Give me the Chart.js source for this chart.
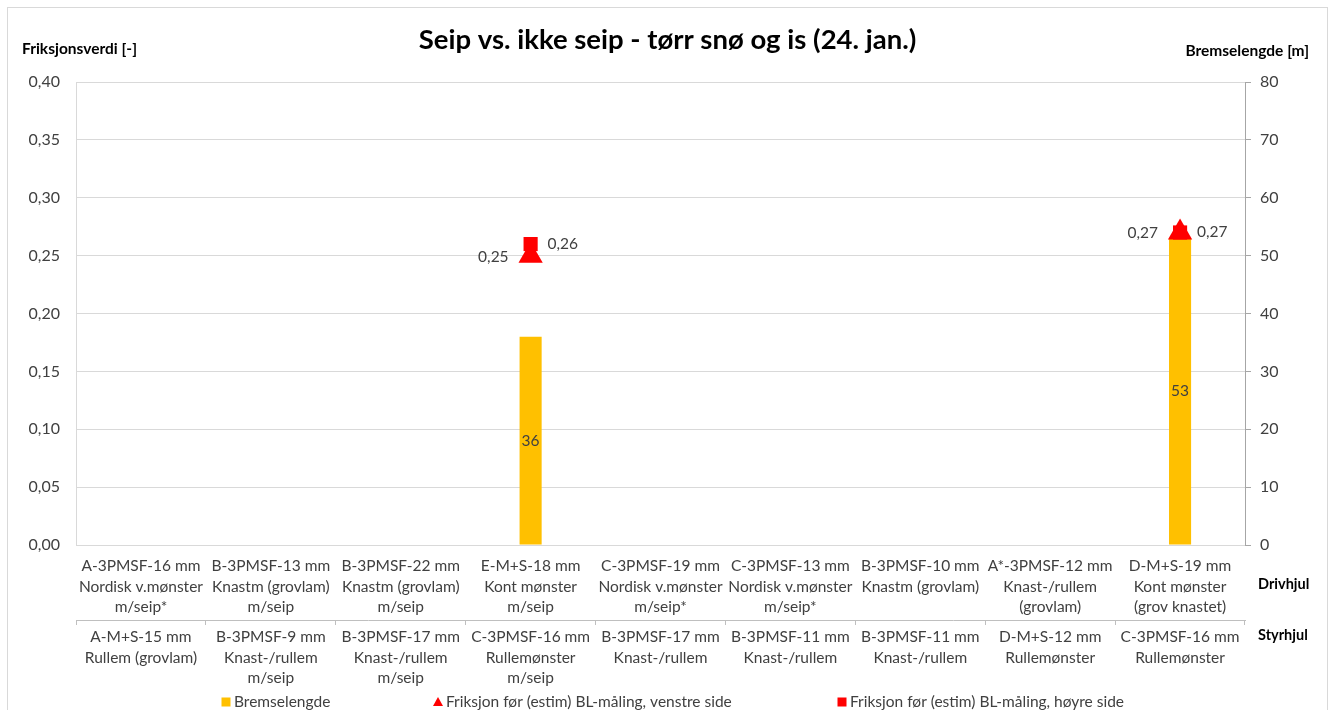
<!DOCTYPE html>
<html>
<head>
<meta charset="utf-8">
<script src="https://cdn.jsdelivr.net/npm/chart.js@4.4.1/dist/chart.umd.min.js"></script>
<style>
  html, body { margin: 0; padding: 0; background: #fff; }
  #wrap { width: 1335px; height: 710px; }
</style>
</head>
<body>
<div id="wrap"><canvas id="chart"></canvas></div>
<script>
const drivhjul = [
  ["A-3PMSF-16 mm", "Nordisk v.mønster", "m/seip*"],
  ["B-3PMSF-13 mm", "Knastm (grovlam)", "m/seip"],
  ["B-3PMSF-22 mm", "Knastm (grovlam)", "m/seip"],
  ["E-M+S-18 mm", "Kont mønster", "m/seip"],
  ["C-3PMSF-19 mm", "Nordisk v.mønster", "m/seip*"],
  ["C-3PMSF-13 mm", "Nordisk v.mønster", "m/seip*"],
  ["B-3PMSF-10 mm", "Knastm (grovlam)"],
  ["A*-3PMSF-12 mm", "Knast-/rullem", "(grovlam)"],
  ["D-M+S-19 mm", "Kont mønster", "(grov knastet)"]
];
const styrhjul = [
  ["A-M+S-15 mm", "Rullem (grovlam)"],
  ["B-3PMSF-9 mm", "Knast-/rullem", "m/seip"],
  ["B-3PMSF-17 mm", "Knast-/rullem", "m/seip"],
  ["C-3PMSF-16 mm", "Rullemønster", "m/seip"],
  ["B-3PMSF-17 mm", "Knast-/rullem"],
  ["B-3PMSF-11 mm", "Knast-/rullem"],
  ["B-3PMSF-11 mm", "Knast-/rullem"],
  ["D-M+S-12 mm", "Rullemønster"],
  ["C-3PMSF-16 mm", "Rullemønster"]
];
const bremselengde    = [null, null, null, 36, null, null, null, null, 53];
const friksjonVenstre = [null, null, null, 0.25, null, null, null, null, 0.27];
const friksjonHoyre   = [null, null, null, 0.26, null, null, null, null, 0.27];

const tekst = "#404040";
const font = "Lato";
const komma = v => v.toFixed(2).replace(".", ",");

// verdier på søyler og punkter
const verdiPlugin = {
  id: "verdier",
  afterDatasetsDraw(chart) {
    const ctx = chart.ctx;
    ctx.save();
    ctx.font = "15.5px " + font;
    ctx.fillStyle = tekst;
    ctx.textBaseline = "middle";
    chart.data.datasets.forEach((ds, i) => {
      chart.getDatasetMeta(i).data.forEach((el, j) => {
        const v = ds.data[j];
        if (v == null) return;
        if (ds.type === "bar") {
          ctx.textAlign = "center";
          ctx.fillText(v, el.x, (el.y + el.base) / 2);
        } else if (ds.pointStyle === "triangle") {
          ctx.textAlign = "right";
          ctx.fillText(komma(v), el.x - 22, el.y + 1);
        } else {
          ctx.textAlign = "left";
          ctx.fillText(komma(v), el.x + 17, el.y);
        }
      });
    });
    ctx.restore();
  }
};

// ramme, aksetitler, rad-navn og forklaring
const rammePlugin = {
  id: "ramme",
  beforeDraw(chart) {
    const ctx = chart.ctx;
    ctx.save();
    ctx.fillStyle = "#fff";
    ctx.fillRect(0, 0, chart.width, chart.height);
    ctx.strokeStyle = "#d9d9d9";
    ctx.lineWidth = 1;
    ctx.strokeRect(7.5, 7.5, chart.width - 15, chart.height + 20);
    ctx.restore();
  },
  afterDraw(chart) {
    const ctx = chart.ctx;
    const a = chart.chartArea;
    const x = chart.scales.x, x2 = chart.scales.x2;
    ctx.save();
    ctx.fillStyle = "#000";
    ctx.font = "bold 15.5px " + font;
    ctx.textBaseline = "middle";
    ctx.textAlign = "left";
    ctx.fillText("Friksjonsverdi [-]", 22, 49);
    ctx.textAlign = "right";
    ctx.fillText("Bremselengde [m]", 1309, 51);
    ctx.font = "bold 14.5px " + font;
    ctx.textAlign = "left";
    ctx.fillText("Drivhjul", a.right + 13, (x.top + x.bottom) / 2 + 2);
    ctx.fillText("Styrhjul", a.right + 13, x2.top + 15);

    // forklaring
    const ds = chart.data.datasets;
    const items = [
      { ds: ds[0], x: 226 },
      { ds: ds[1], x: 438 },
      { ds: ds[2], x: 842 }
    ];
    const y = 702;
    ctx.font = "15.5px " + font;
    items.forEach(it => {
      ctx.fillStyle = it.ds.backgroundColor;
      if (it.ds.pointStyle === "triangle") {
        ctx.beginPath();
        ctx.moveTo(it.x, y - 5);
        ctx.lineTo(it.x + 5, y + 4);
        ctx.lineTo(it.x - 5, y + 4);
        ctx.closePath();
        ctx.fill();
      } else {
        ctx.fillRect(it.x - 4.5, y - 4.5, 9, 9);
      }
      ctx.fillStyle = tekst;
      ctx.textAlign = "left";
      ctx.fillText(it.ds.label, it.x + 8, y);
    });
    ctx.restore();
  }
};

new Chart(document.getElementById("chart"), {
  type: "bar",
  plugins: [verdiPlugin, rammePlugin],
  data: {
    labels: drivhjul,
    datasets: [
      {
        type: "bar",
        label: "Bremselengde",
        data: bremselengde,
        yAxisID: "yR",
        backgroundColor: "#FFC000",
        borderWidth: 0,
        barPercentage: 0.17,
        categoryPercentage: 1,
        pointStyle: "rect",
        order: 2
      },
      {
        type: "line",
        label: "Friksjon før (estim) BL-måling, venstre side",
        data: friksjonVenstre,
        yAxisID: "y",
        showLine: false,
        pointStyle: "triangle",
        pointRadius: 14,
        backgroundColor: "#FF0000",
        borderColor: "#FF0000",
        borderWidth: 0,
        order: 1
      },
      {
        type: "line",
        label: "Friksjon før (estim) BL-måling, høyre side",
        data: friksjonHoyre,
        yAxisID: "y",
        showLine: false,
        pointStyle: "rect",
        pointRadius: 10,
        backgroundColor: "#FF0000",
        borderColor: "#FF0000",
        borderWidth: 0,
        order: 0
      }
    ]
  },
  options: {
    responsive: true,
    maintainAspectRatio: false,
    animation: false,
    layout: { padding: { top: 0, left: 0, right: 0, bottom: 20 } },
    plugins: {
      legend: { display: false },
      tooltip: { enabled: false },
      title: {
        display: true,
        text: "Seip vs. ikke seip - tørr snø og is (24. jan.)",
        color: "#000",
        font: { family: font, size: 27.5, weight: "bold", lineHeight: 1.2 },
        padding: { top: 24, bottom: 25 }
      }
    },
    scales: {
      x: {
        position: "bottom",
        offset: true,
        grid: { offset: true, drawOnChartArea: false, drawTicks: false },
        border: { display: true, color: "#d9d9d9" },
        ticks: {
          autoSkip: false, maxRotation: 0, minRotation: 0, padding: 11,
          color: tekst, font: { family: font, size: 15.5, lineHeight: 1.32 }
        },
        afterFit: s => { s.height = 75; }
      },
      x2: {
        type: "category",
        position: "bottom",
        labels: styrhjul,
        offset: true,
        grid: { offset: true, drawOnChartArea: false, tickLength: 5, color: "#bfbfbf" },
        border: { display: true, color: "#bfbfbf" },
        ticks: {
          autoSkip: false, maxRotation: 0, minRotation: 0, padding: 2,
          color: tekst, font: { family: font, size: 15.5, lineHeight: 1.32 }
        },
        afterFit: s => { s.height = 70; }
      },
      y: {
        position: "left",
        min: 0, max: 0.4,
        ticks: {
          stepSize: 0.05, padding: 16, color: tekst,
          font: { family: font, size: 16 },
          callback: v => komma(v)
        },
        grid: { color: "#d9d9d9", drawTicks: false },
        border: { color: "#d9d9d9" },
        afterFit: s => { s.width = 76; }
      },
      yR: {
        position: "right",
        min: 0, max: 80,
        ticks: {
          stepSize: 10, padding: 9, color: tekst,
          font: { family: font, size: 16 }
        },
        grid: { drawOnChartArea: false, tickLength: 6, color: "#a6a6a6" },
        border: { color: "#a6a6a6" },
        afterFit: s => { s.width = 90; }
      }
    }
  }
});
</script>
</body>
</html>
